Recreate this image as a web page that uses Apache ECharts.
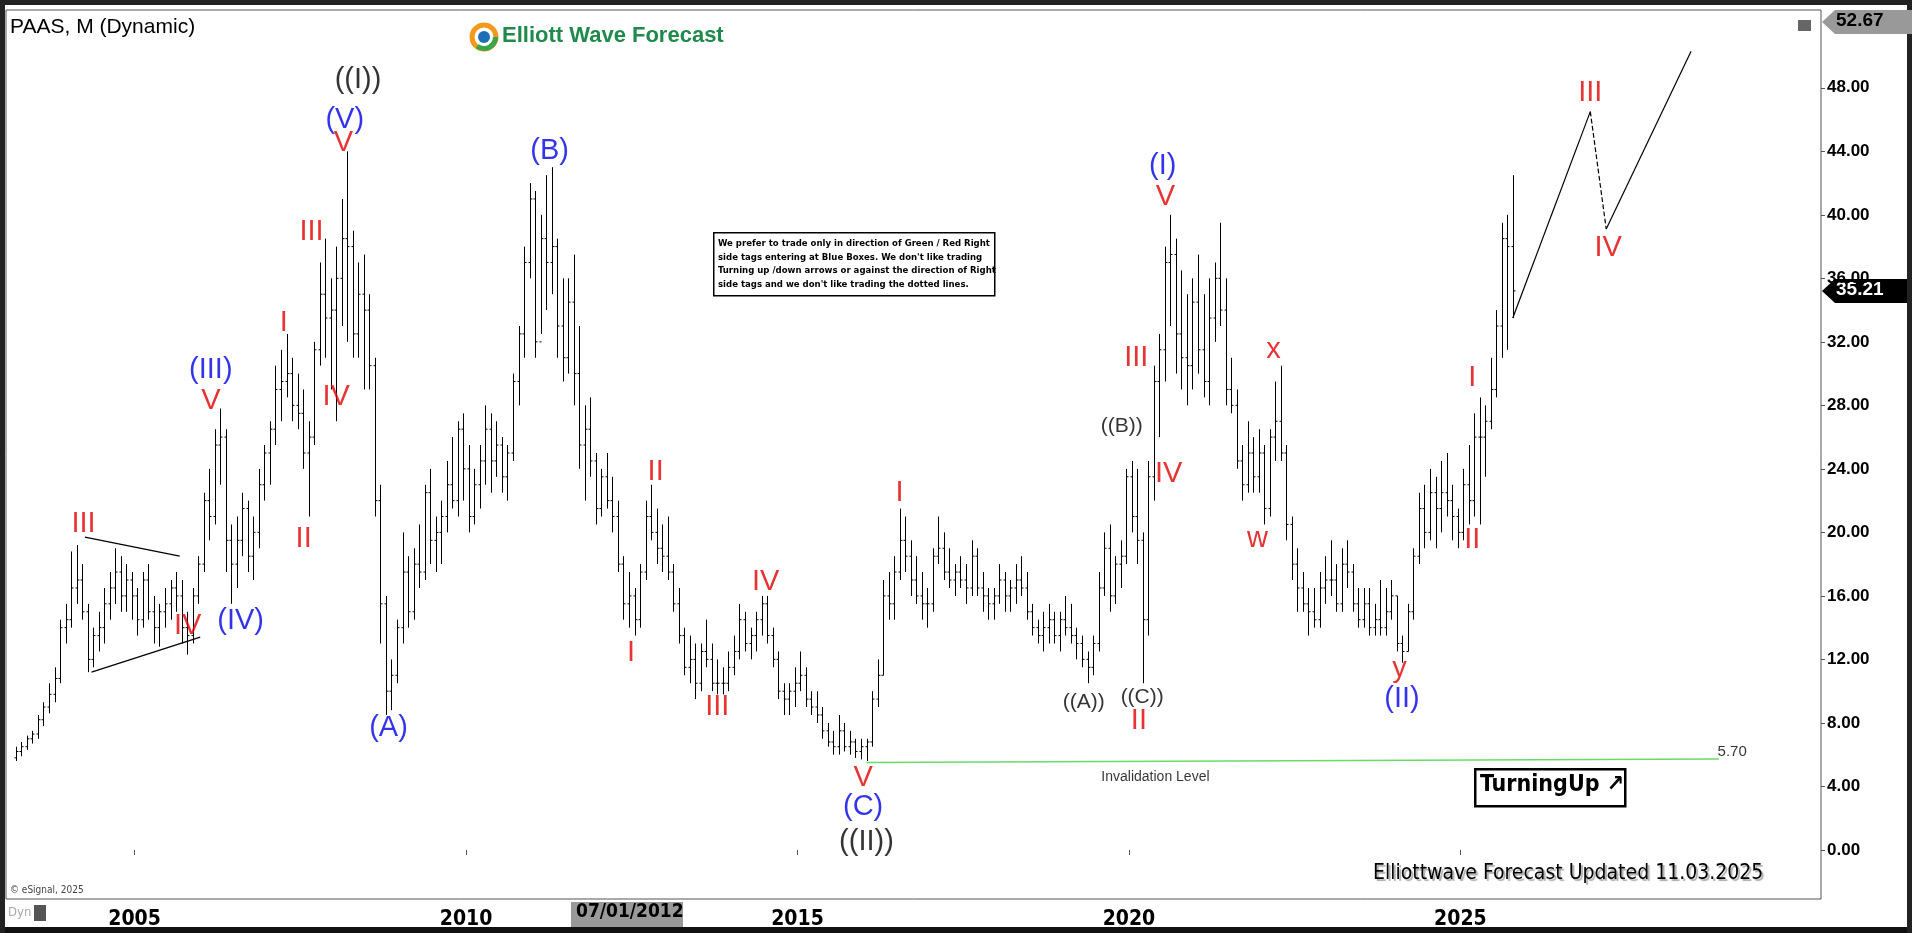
<!DOCTYPE html>
<html><head><meta charset="utf-8">
<script src="https://cdn.jsdelivr.net/npm/echarts@6/dist/echarts.min.js"></script>
<style>html,body{margin:0;padding:0;background:#222}#c{width:1912px;height:933px}</style>
</head><body><div id="c"></div>
<script>
const NARROW = "'DejaVu Sans Condensed','Liberation Sans',sans-serif";
const startYear = 2003, startMonth = 3;
const highs = [
6.5,6.8,7.2,7.5,8.5,9.3,10.5,11.5,14.5,15.5,
18.8,19.2,18.0,15.5,14.0,15.0,16.5,17.5,19.0,18.5,18.0,17.5,
16.5,17.5,18.0,16.0,15.5,16.5,17.0,17.5,17.0,15.0,16.5,18.5,
22.5,24.0,26.5,27.8,26.5,20.5,21.0,22.5,22.0,21.0,24.0,25.5,
27.0,30.5,31.5,32.5,31.0,30.0,29.0,27.0,32.0,37.0,38.5,36.0,
38.0,41.0,44.0,39.0,37.0,37.5,35.0,31.0,23.0,16.0,12.0,14.5,
20.0,18.5,19.0,20.5,23.0,24.0,21.0,22.0,24.5,26.0,27.0,27.5,
25.5,24.0,25.5,28.0,27.5,27.0,26.0,25.5,30.0,33.0,38.0,42.0,
41.5,40.0,42.5,43.0,38.5,36.0,36.0,37.5,33.0,28.0,28.5,25.0,
24.0,25.0,23.5,22.0,18.5,17.5,16.5,18.0,22.0,23.0,21.5,20.5,
21.0,18.0,16.5,14.0,13.5,13.0,13.0,14.5,13.0,12.0,11.5,12.5,
13.5,15.5,15.0,14.0,15.0,16.0,16.0,14.0,12.5,10.5,10.5,11.5,
12.5,11.5,10.0,10.0,9.0,8.0,7.5,8.5,8.0,7.5,7.0,7.0,
7.0,10.0,12.0,17.0,17.5,18.5,21.5,21.0,19.5,18.5,17.5,16.5,
19.0,21.0,20.0,19.0,18.0,18.5,18.0,19.5,19.0,17.5,16.5,16.5,
18.0,17.5,17.0,18.0,18.5,17.5,15.5,14.5,15.0,15.5,15.0,15.0,
16.0,15.5,14.0,13.5,12.5,13.5,17.5,20.0,20.5,18.5,19.5,24.0,
24.5,24.0,20.0,24.5,30.5,32.5,38.0,40.0,38.5,36.5,35.0,36.0,
37.5,35.0,36.0,37.0,39.5,36.0,31.0,29.0,25.5,27.0,26.0,26.5,
25.5,26.5,29.5,30.5,25.5,21.0,19.0,17.5,16.5,16.5,17.5,18.5,
19.5,18.0,19.0,19.5,18.0,16.5,16.5,16.5,15.5,17.0,16.5,17.0,
16.0,13.5,15.5,19.0,22.5,23.0,24.0,23.5,24.5,25.0,23.0,21.5,
24.0,25.5,27.5,28.5,28.0,31.0,34.0,39.5,40.0,42.5];
const lows = [
5.6,5.9,6.3,6.7,7.0,7.8,8.6,9.3,10.5,13.0,
14.0,15.5,14.5,11.2,11.5,12.5,13.0,14.5,15.5,15.0,15.0,14.5,
13.5,14.0,14.5,13.0,12.8,14.0,14.5,15.0,13.0,12.3,13.0,15.5,
17.5,19.5,20.5,23.0,17.5,15.5,16.5,18.5,17.5,17.0,19.0,22.0,
23.0,25.5,27.0,28.5,27.0,26.5,24.0,21.0,25.5,30.5,31.0,29.0,
27.0,33.0,32.0,31.0,31.0,29.0,29.0,21.0,13.0,8.5,8.8,10.5,
13.0,14.0,14.5,16.5,17.0,18.0,17.5,18.0,20.0,21.5,21.0,22.0,
20.0,20.5,21.5,23.0,22.5,23.5,22.5,22.0,24.5,28.0,31.0,36.0,
31.0,32.5,34.0,35.0,31.0,29.5,30.0,28.0,24.0,22.0,23.5,20.5,
21.0,21.5,20.0,17.5,14.5,14.0,13.5,14.0,17.0,19.5,18.0,17.5,
17.0,15.0,13.0,11.0,10.5,9.5,10.0,11.5,10.0,9.8,9.8,10.0,
11.0,12.0,12.5,12.0,12.5,13.5,13.0,11.5,9.5,8.5,8.5,9.0,
10.0,9.0,8.5,8.0,7.0,6.5,6.0,6.0,6.2,6.0,5.8,5.7,
5.6,6.5,9.0,11.0,14.5,14.5,17.0,17.5,16.0,15.5,14.5,14.0,
15.0,18.0,17.0,16.5,16.0,16.5,15.5,16.0,16.0,15.0,14.5,14.5,
15.5,15.0,15.0,15.5,16.0,14.5,13.5,13.0,12.5,13.0,13.0,12.5,
13.5,13.0,12.0,11.5,10.5,11.0,12.5,16.0,15.0,15.5,16.5,18.0,
20.0,18.0,10.5,13.5,22.0,26.0,29.5,33.0,30.0,29.0,28.0,29.0,
30.0,28.5,28.0,32.0,33.0,28.0,27.5,24.0,22.0,22.5,22.5,22.5,
20.5,21.0,24.5,24.5,19.5,17.0,15.0,15.0,13.5,14.0,14.0,15.5,
16.0,15.0,15.0,16.5,15.0,14.0,14.0,13.5,13.5,13.5,13.5,14.5,
12.5,11.8,12.5,14.5,18.0,19.0,19.5,19.0,20.0,21.0,19.5,19.0,
19.5,20.5,21.0,20.5,23.5,26.5,28.5,31.0,31.5,33.5];
const closes = [
6.2,6.5,7.0,7.3,8.2,9.0,9.8,10.8,14.0,14.5,
16.5,17.0,15.0,12.0,13.5,14.0,15.5,16.5,17.5,16.0,17.0,16.0,
14.5,17.0,15.0,14.0,15.0,15.5,16.5,16.0,14.0,13.5,16.0,18.0,
22.0,21.0,25.5,26.0,19.5,18.0,19.5,21.5,18.5,20.0,23.0,25.0,
26.5,29.0,29.5,30.0,28.0,27.5,25.0,26.0,31.5,35.0,33.5,34.0,
36.0,38.5,38.0,32.5,35.0,34.0,30.5,22.0,15.5,10.0,11.0,14.0,
17.5,15.0,18.0,17.5,22.5,19.5,20.0,21.0,23.0,22.0,26.5,24.0,
21.0,23.0,24.5,26.5,24.5,25.5,23.5,25.0,29.5,32.5,37.0,41.0,
32.0,38.5,37.0,38.0,33.0,31.0,34.5,30.0,25.5,26.5,24.5,21.5,
23.5,22.0,21.0,18.0,15.5,16.0,14.5,17.5,21.0,20.0,19.0,18.5,
17.5,15.5,13.5,11.5,12.0,10.5,12.5,12.0,10.5,10.5,10.5,11.5,
12.5,14.5,13.0,13.5,14.5,15.5,13.5,12.0,10.0,9.5,10.0,10.5,
11.0,9.5,9.0,8.5,7.5,6.8,6.5,7.5,6.5,6.8,6.2,6.5,
6.8,9.5,11.0,16.0,15.5,17.5,19.5,18.5,17.0,16.0,15.5,15.5,
18.5,19.0,17.5,17.0,17.5,17.0,16.5,18.5,16.5,16.0,15.5,16.0,
17.0,16.0,16.5,17.0,16.5,15.0,14.0,13.5,14.0,14.5,13.5,14.5,
14.0,13.5,13.0,12.0,11.5,13.0,16.5,19.0,16.0,18.0,18.5,23.5,
21.0,19.5,14.5,23.5,29.5,31.5,37.0,37.5,32.5,31.0,30.5,34.5,
31.5,29.5,33.5,36.0,34.0,29.0,28.0,24.5,23.0,25.0,23.5,25.0,
21.5,26.0,27.0,25.0,20.5,18.0,16.5,15.5,15.0,14.5,16.5,17.0,
17.0,15.5,18.0,17.5,15.5,14.5,15.5,14.0,14.5,14.0,15.0,16.0,
13.0,12.5,15.0,18.5,21.5,20.0,22.5,21.5,22.5,22.0,21.0,20.0,
23.0,22.0,26.0,26.0,27.0,29.0,33.0,38.5,38.0,35.21];
const yTicks = [0,4,8,12,16,20,24,28,32,36,40,44,48];
const xTicks = [2005,2010,2015,2020,2025];
const waveLabels = [
['((I))',2008.37,48.5,'#000'],['(V)',2008.17,46.0,'#0000e6'],['V',2008.15,44.5,'#e00000'],
['III',2007.67,38.9,'#e00000'],['I',2007.25,33.2,'#e00000'],['IV',2008.04,28.5,'#e00000'],
['II',2007.55,19.6,'#e00000'],['(III)',2006.15,30.2,'#0000e6'],['V',2006.15,28.3,'#e00000'],
['(IV)',2006.6,14.4,'#0000e6'],['III',2004.23,20.5,'#e00000'],['IV',2005.8,14.1,'#e00000'],
['(A)',2008.83,7.7,'#0000e6'],['(B)',2011.26,44.0,'#0000e6'],['II',2012.86,23.8,'#e00000'],
['I',2012.49,12.4,'#e00000'],['IV',2014.52,16.9,'#e00000'],['III',2013.79,9.0,'#e00000'],
['I',2016.54,22.5,'#e00000'],['V',2015.99,4.5,'#e00000'],['(C)',2015.99,2.7,'#0000e6'],
['((II))',2016.04,0.5,'#000'],['II',2020.15,8.1,'#e00000'],
['III',2020.11,31.0,'#e00000'],['IV',2020.6,23.7,'#e00000'],['V',2020.55,41.1,'#e00000'],
['(I)',2020.51,43.1,'#0000e6'],['x',2022.18,31.5,'#e00000'],['w',2021.94,19.6,'#e00000'],
['y',2024.08,11.4,'#e00000'],['(II)',2024.12,9.5,'#0000e6'],['I',2025.18,29.7,'#e00000'],
['II',2025.18,19.5,'#e00000'],['III',2026.96,47.7,'#e00000'],['IV',2027.23,37.9,'#e00000']];
const smallLabels = [['((A))',2019.32,9.3],['((C))',2020.2,9.6],['((B))',2019.89,26.7]];
const projSolid1 = [[2025.79,33.5],[2026.96,46.5]];
const projDash = [[2026.96,46.5],[2027.2,39.1]];
const projSolid2 = [[2027.2,39.1],[2028.48,50.3]];
const triUpper = [[2004.25,19.7],[2005.68,18.5]];
const triLower = [[2004.35,11.2],[2005.99,13.4]];
const invalidation = [[2016.04,5.5],[2028.9,5.72]];

const bars = closes.map((c,i)=>{
  const t = startYear + (startMonth-1+i+0.5)/12;
  const o = i===0 ? 5.8 : closes[i-1];
  return [t,o,highs[i],lows[i],c];
});
const chart = echarts.init(document.getElementById('c'));
const lineS = (d,opt)=>Object.assign({type:'line',data:d,symbol:'none',silent:true,lineStyle:{color:'#000',width:1.2}},opt||{});
chart.setOption({
  animation:false,
  backgroundColor:'#fff',
  grid:{left:6,right:91,top:10,bottom:34,show:true,borderColor:'#555',borderWidth:1},
  xAxis:{type:'value',min:2003.06,max:2030.44,splitLine:{show:false},
    axisLine:{show:false},
    axisTick:{customValues:xTicks,length:5,lineStyle:{color:'#555'}},
    axisLabel:{customValues:xTicks,fontSize:21,fontWeight:'bold',color:'#000',fontFamily:NARROW,margin:10,formatter:v=>String(v)}},
  yAxis:{type:'value',position:'right',min:-3.09,max:52.9,splitLine:{show:false},
    axisLine:{show:false},
    axisTick:{show:true,customValues:yTicks,length:4,lineStyle:{color:'#555'}},
    axisLabel:{customValues:yTicks,fontSize:17,fontWeight:'bold',color:'#000',fontFamily:'Liberation Sans',margin:6,formatter:v=>v.toFixed(2)}},
  series:[
    {type:'custom',data:bars,silent:true,
     renderItem:(p,api)=>{
       const t=api.value(0);
       const po=api.coord([t,api.value(1)]),ph=api.coord([t,api.value(2)]),pl=api.coord([t,api.value(3)]),pc=api.coord([t,api.value(4)]);
       const x=Math.round(ph[0])+0.5;
       const st={stroke:'#000',lineWidth:1};
       return {type:'group',children:[
         {type:'line',shape:{x1:x,y1:ph[1],x2:x,y2:pl[1]},style:st},
         {type:'line',shape:{x1:x-2,y1:po[1],x2:x,y2:po[1]},style:st},
         {type:'line',shape:{x1:x,y1:pc[1],x2:x+2,y2:pc[1]},style:st}]};
     }},
    lineS(projSolid1),lineS(projDash,{lineStyle:{color:'#000',width:1.2,type:'dashed'}}),lineS(projSolid2),
    lineS(triUpper),lineS(triLower),
    lineS(invalidation,{lineStyle:{color:'#66dd66',width:1.5}}),
    {type:'scatter',symbolSize:0,silent:true,data:waveLabels.map(w=>({value:[w[1],w[2]],label:{show:true,formatter:w[0],color:w[3],fontSize:29,fontFamily:'Liberation Sans',position:'inside'}}))},
    {type:'scatter',symbolSize:0,silent:true,data:smallLabels.map(w=>({value:[w[1],w[2]],label:{show:true,formatter:w[0],color:'#000',fontSize:21,fontFamily:'Liberation Sans',position:'inside'}}))},
    {type:'scatter',symbolSize:0,silent:true,data:[
      {value:[2029.1,6.2],label:{show:true,formatter:'5.70',color:'#000',fontSize:15,fontFamily:'Liberation Sans',position:'inside'}},
      {value:[2020.4,4.6],label:{show:true,formatter:'Invalidation Level',color:'#000',fontSize:14,fontFamily:'Liberation Sans',position:'inside'}}]}
  ],
  graphic:[
    {type:'rect',left:0,top:0,shape:{width:1912,height:5},style:{fill:'#222'}},
    {type:'rect',left:0,top:927,shape:{width:1912,height:6},style:{fill:'#111'}},
    {type:'rect',left:0,top:0,shape:{width:5,height:933},style:{fill:'#222'}},
    {type:'rect',left:1907,top:0,shape:{width:5,height:933},style:{fill:'#222'}},
    {type:'text',left:10,top:17,style:{text:'PAAS, M (Dynamic)',fontSize:21,fill:'#000',fontFamily:'Liberation Sans'}},
    {type:'circle',shape:{cx:484,cy:37,r:12},style:{fill:'none',stroke:'#f39a1e',lineWidth:5}},
    {type:'circle',shape:{cx:484,cy:37,r:6},style:{fill:'#1e6fb5'}},
    {type:'sector',shape:{cx:484,cy:37,r:14,r0:9,startAngle:0,endAngle:2.2},style:{fill:'#3aa54a'}},
    {type:'text',left:502,top:25,style:{text:'Elliott Wave Forecast',fontSize:22,fontWeight:'bold',fill:'#1f8a4c',fontFamily:'Liberation Sans'}},
    {type:'rect',left:713,top:232,shape:{width:281,height:63},style:{fill:'#fff',stroke:'#000',lineWidth:1.5}},
    {type:'text',left:718,top:237,style:{text:'We prefer to trade only in direction of Green / Red Right\nside tags entering at Blue Boxes. We don\'t like trading\nTurning up /down arrows or against the direction of Right\nside tags and we don\'t like trading the dotted lines.',fontSize:9.5,lineHeight:13.5,fontWeight:'bold',fill:'#000',fontFamily:NARROW}},
    {type:'rect',left:1474,top:768,shape:{width:150,height:37},style:{fill:'#fff',stroke:'#000',lineWidth:2.5}},
    {type:'text',left:1480,top:774,style:{text:'TurningUp ↗',fontSize:23,fontWeight:'bold',fill:'#000',fontFamily:NARROW}},
    {type:'text',left:1373,top:863,style:{text:'Elliottwave Forecast Updated 11.03.2025',fontSize:21,fill:'#000',fontFamily:NARROW,textShadowColor:'#aaa',textShadowOffsetX:2,textShadowOffsetY:2,textShadowBlur:1}},
    {type:'text',left:10,top:885,style:{text:'© eSignal, 2025',fontSize:10,fill:'#444',fontFamily:NARROW}},
    {type:'text',left:8,top:906,style:{text:'Dyn',fontSize:13,fill:'#aaa',fontFamily:NARROW}},
    {type:'rect',left:34,top:905,shape:{width:12,height:16},style:{fill:'#555'}},
    {type:'rect',left:571,top:902,shape:{width:112,height:25},style:{fill:'#999'}},
    {type:'text',left:576,top:903,style:{text:'07/01/2012',fontSize:19,fontWeight:'bold',fill:'#000',fontFamily:NARROW}},
    {type:'rect',left:1798,top:20,shape:{width:13,height:11},style:{fill:'#666'}},
    {type:'polygon',shape:{points:[[1822,22],[1835,10],[1912,10],[1912,34],[1835,34]]},style:{fill:'#999'}},
    {type:'text',left:1836,top:11,style:{text:'52.67',fontSize:19,fontWeight:'bold',fill:'#000',fontFamily:'Liberation Sans'}},
    {type:'polygon',shape:{points:[[1822,291],[1835,279],[1907,279],[1907,303],[1835,303]]},style:{fill:'#000'}},
    {type:'text',left:1836,top:280,style:{text:'35.21',fontSize:19,fontWeight:'bold',fill:'#fff',fontFamily:'Liberation Sans'}}
  ]
});
</script></body></html>
